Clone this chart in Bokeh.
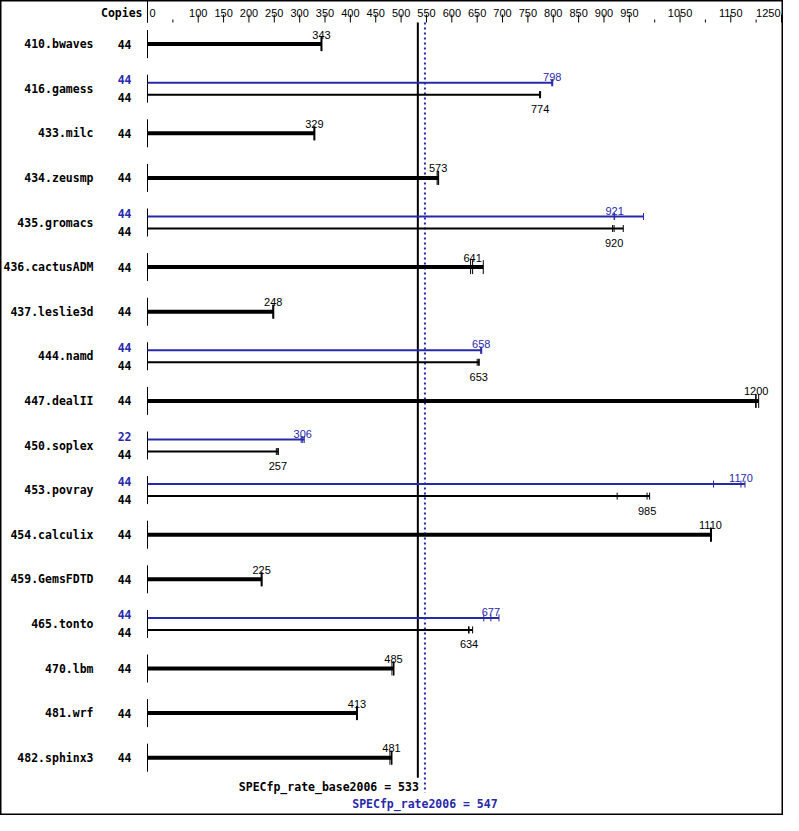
from bokeh.plotting import figure
from bokeh.models import Range1d, ColumnDataSource
from bokeh.core.properties import value
from bokeh.embed import file_html
from bokeh.resources import INLINE

# ---------------- data ----------------
benchmarks = ["410.bwaves", "416.gamess", "433.milc", "434.zeusmp", "435.gromacs",
              "436.cactusADM", "437.leslie3d", "444.namd", "447.dealII", "450.soplex",
              "453.povray", "454.calculix", "459.GemsFDTD", "465.tonto", "470.lbm",
              "481.wrf", "482.sphinx3"]
base_copies = [44, 44, 44, 44, 44, 44, 44, 44, 44, 44, 44, 44, 44, 44, 44, 44, 44]
base_ratio = [343, 774, 329, 573, 920, 641, 248, 653, 1200, 257, 985, 1110, 225, 634, 485, 413, 481]
base_runs = [[342, 343, 344], [773, 774, 775], [328, 329, 330], [571, 573, 574],
             [917, 920, 938], [637, 641, 662], [247, 248, 249], [650, 653, 654],
             [1199, 1200, 1205], [254, 257, 258], [926, 985, 990], [1110, 1110, 1112],
             [224, 225, 226], [633, 634, 641], [482, 485, 486], [412, 413, 414],
             [478, 481, 482]]
peak_copies = [None, 44, None, None, 44, None, None, 44, None, 22, 44, None, None, 44, None, None, None]
peak_ratio = [None, 798, None, None, 921, None, None, 658, None, 306, 1170, None, None, 677, None, None, None]
peak_runs = [None, [797, 798, 799], None, None, [920, 921, 978], None, None, [657, 658, 659],
             None, [303, 306, 309], [1116, 1170, 1178], None, None, [663, 677, 693],
             None, None, None]
major_ticks = [0, 100, 150, 200, 250, 300, 350, 400, 450, 500, 550, 600, 650, 700,
               750, 800, 850, 900, 950, 1050, 1150, 1250]
minor_ticks = [50, 1000, 1100, 1200]
base_metric = 533
peak_metric = 547
base_metric_label = "SPECfp_rate_base2006 = 533"
peak_metric_label = "SPECfp_rate2006 = 547"
copies_header = "Copies"

# ---------------- layout / style ----------------
W, H = 783, 815
X0 = 147.0          # pixel position of value 0
PPU = 0.5072        # pixels per unit
ROW0 = 43.6         # pixel centre of first row
STEP = 44.6         # pixel step between rows
BLUE = "#2828aa"
NUM_FONT = value("Liberation Sans")
BOLD_FONT = value("DejaVu Sans Mono")

p = figure(width=W, height=H,
           x_range=Range1d(-X0 / PPU, (W - X0) / PPU),
           y_range=Range1d(H, 0),
           x_axis_location=None, y_axis_location=None,
           toolbar_location=None, output_backend="svg",
           min_border=0, outline_line_color="black", outline_line_width=2,
           background_fill_color="white", border_fill_color="white")
p.grid.visible = False

bars = dict(x0=[], x1=[], y=[], w=[], c=[])
ticks = dict(x=[], y0=[], y1=[], c=[])
vlabels = dict(x=[], y=[], t=[], c=[])
zero = dict(y0=[], y1=[])
copies = dict(y=[], t=[], c=[])
names = dict(y=[], t=[])

def add_series(runs, ratio, ncopies, yb, half, lw, color, label_above, cy):
    bars["x0"].append(0); bars["x1"].append(max(runs)); bars["y"].append(yb)
    bars["w"].append(lw); bars["c"].append(color)
    for r in runs:
        ticks["x"].append(r); ticks["y0"].append(yb - half); ticks["y1"].append(yb + half)
        ticks["c"].append(color)
    vlabels["x"].append(ratio)
    vlabels["y"].append(yb - half - 2.5 if label_above else yb + half + 11)
    vlabels["t"].append(str(ratio)); vlabels["c"].append(color)
    copies["y"].append(cy); copies["t"].append(str(ncopies)); copies["c"].append(color)

for i, name in enumerate(benchmarks):
    c = ROW0 + STEP * i
    names["y"].append(c); names["t"].append(name)
    zero["y0"].append(c - 14); zero["y1"].append(c + 14)
    if peak_ratio[i] is not None:
        add_series(peak_runs[i], peak_ratio[i], peak_copies[i], c - 6, 3.5, 2, BLUE, True, c - 9)
        add_series(base_runs[i], base_ratio[i], base_copies[i], c + 6, 3.5, 2, "black", False, c + 9)
    else:
        add_series(base_runs[i], base_ratio[i], base_copies[i], c, 7, 4, "black", True, c)

last = ROW0 + STEP * (len(benchmarks) - 1)
TICK_TOP, TICK_MINOR, TICK_BOTTOM, LABEL_BASE = 14, 19, 22, 12.5

# top scale
p.segment(x0=major_ticks, x1=major_ticks, y0=[TICK_TOP] * len(major_ticks),
          y1=[TICK_BOTTOM] * len(major_ticks), line_color="black", line_width=1)
p.segment(x0=minor_ticks, x1=minor_ticks, y0=[TICK_MINOR] * len(minor_ticks),
          y1=[TICK_BOTTOM] * len(minor_ticks), line_color="black", line_width=1)
p.segment(x0=[0], x1=[0], y0=[0], y1=[TICK_BOTTOM], line_color="black", line_width=1)
n = len(major_ticks)
aligns = ["left"] + ["center"] * (n - 2) + ["right"]
offs = [2] + [0] * (n - 2) + [-1]
p.text(x="x", y="y", text="t", text_align="a", x_offset="o",
       source=ColumnDataSource(dict(x=major_ticks, y=[LABEL_BASE] * n,
                                    t=[str(v) for v in major_ticks], a=aligns, o=offs)),
       text_font=NUM_FONT, text_font_size="11px", text_color="black",
       text_baseline="alphabetic")
p.text(x=[0], y=[LABEL_BASE], text=[copies_header], x_offset=-5, text_align="right",
       text_baseline="alphabetic", text_font=BOLD_FONT, text_font_size="11.5px",
       text_font_style="bold", text_color="black")

# zero lines per row
p.segment(x0=0, x1=0, y0="y0", y1="y1", source=ColumnDataSource(zero),
          line_color="black", line_width=1)

# metric lines
p.segment(x0=[base_metric], x1=[base_metric], y0=[TICK_BOTTOM], y1=[last + 20],
          line_color="black", line_width=2)
p.segment(x0=[peak_metric], x1=[peak_metric], y0=[TICK_BOTTOM], y1=[last + 35],
          line_color=BLUE, line_width=2, line_dash="2 3")

# bars and run ticks
p.segment(x0="x0", x1="x1", y0="y", y1="y", line_width="w", line_color="c",
          source=ColumnDataSource(bars))
p.segment(x0="x", x1="x", y0="y0", y1="y1", line_color="c", line_width=1,
          source=ColumnDataSource(ticks))

# value labels
p.text(x="x", y="y", text="t", text_color="c", source=ColumnDataSource(vlabels),
       text_font=NUM_FONT, text_font_size="11px", text_align="center",
       text_baseline="alphabetic")

# copies and names
p.text(x=0, y="y", text="t", text_color="c", source=ColumnDataSource(copies),
       x_offset=-16, text_align="right", text_baseline="middle",
       text_font=BOLD_FONT, text_font_size="11.5px", text_font_style="bold")
p.text(x=0, y="y", text="t", source=ColumnDataSource(names), text_color="black",
       x_offset=-54, text_align="right", text_baseline="middle",
       text_font=BOLD_FONT, text_font_size="11.5px", text_font_style="bold")

# metric labels
p.text(x=[base_metric], y=[last + 29], text=[base_metric_label], text_align="right",
       x_offset=1, text_baseline="alphabetic", text_font=BOLD_FONT,
       text_font_size="11.5px", text_font_style="bold", text_color="black")
p.text(x=[peak_metric], y=[last + 46], text=[peak_metric_label], text_align="center",
       text_baseline="alphabetic", text_font=BOLD_FONT,
       text_font_size="11.5px", text_font_style="bold", text_color=BLUE)

open("out.html", "w").write(file_html(p, INLINE))
